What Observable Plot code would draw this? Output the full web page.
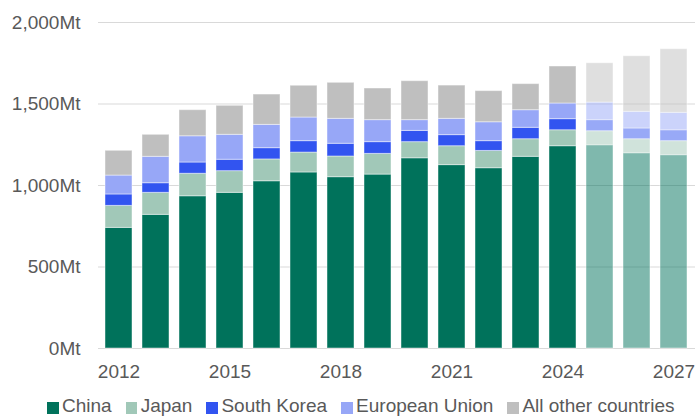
<!DOCTYPE html>
<html>
<head>
<meta charset="utf-8">
<script src="https://cdn.jsdelivr.net/npm/d3@7"></script>
<script src="https://cdn.jsdelivr.net/npm/@observablehq/plot@0.6"></script>
<style>
  html, body { margin: 0; padding: 0; background: #fff; }
  body { width: 695px; height: 417px; overflow: hidden; font-family: "Liberation Sans", Arial, sans-serif; }
  #chart svg { display: block; }
  #legend { display: flex; align-items: flex-start; height: 20px; margin-top: -3px; padding-left: 47px; font-size: 19px; line-height: 19px; color: #595959; white-space: nowrap; }
  #legend .item { display: flex; align-items: flex-start; margin-right: 14px; }
  #legend .sw { width: 11.5px; height: 12px; margin-top: 6px; margin-right: 3.5px; }
</style>
</head>
<body>
<div id="chart"></div>
<div id="legend"></div>
<script>
const years = [2012, 2013, 2014, 2015, 2016, 2017, 2018, 2019, 2020, 2021, 2022, 2023, 2024, 2025, 2026, 2027];
const forecastYears = [2025, 2026, 2027];
const series = ["China", "Japan", "South Korea", "European Union", "All other countries"];
const colors = ["#00725b", "#a1c8b8", "#3254f0", "#97a7f7", "#bfbfbf"];
const china      = [740, 820, 934, 955, 1026, 1080, 1051, 1067, 1167, 1125, 1106, 1176, 1241, 1247, 1198, 1186];
const japan      = [135, 135, 138, 133, 134, 122, 127, 127, 99, 116, 106, 108, 98, 86, 86, 86];
const southKorea = [70, 59, 69, 70, 69, 70, 78, 72, 69, 68, 60, 70, 68, 68, 66, 67];
const eu         = [116, 162, 161, 153, 143, 145, 153, 135, 66, 100, 116, 108, 96, 108, 102, 107];
const other      = [152, 135, 160, 178, 186, 195, 221, 194, 239, 204, 191, 160, 227, 241, 341, 390];
const yTicks = [0, 500, 1000, 1500, 2000];
const xTicks = [2012, 2015, 2018, 2021, 2024, 2027];

const valuesBySeries = [china, japan, southKorea, eu, other];
const data = [];
years.forEach((year, i) => {
  series.forEach((s, j) => data.push({year, series: s, value: valuesBySeries[j][i], forecast: forecastYears.includes(year)}));
});

const barOpts = {x: "year", y: "value", fill: "series", order: series, stroke: "white", strokeOpacity: 0.45, strokeWidth: 1};

const chart = Plot.plot({
  width: 695,
  height: 399,
  marginLeft: 98,
  marginRight: 0,
  marginTop: 22,
  marginBottom: 51,
  style: {fontFamily: "'Liberation Sans', Arial, sans-serif", fontSize: "19px", color: "#595959", background: "#fff"},
  x: {type: "band", domain: years, paddingInner: 0.26, paddingOuter: 0.12},
  y: {domain: [0, 2000]},
  color: {domain: series, range: colors},
  marks: [
    Plot.ruleY(yTicks, {stroke: "#d9d9d9", strokeWidth: 1.2}),
    Plot.barY(data.filter(d => !d.forecast), barOpts),
    Plot.barY(data.filter(d => d.forecast), {...barOpts, fillOpacity: 0.5}),
    Plot.axisY({ticks: yTicks, tickSize: 0, tickPadding: 18, tickFormat: d => d3.format(",")(d) + "Mt", fill: "#595959", label: null}),
    Plot.axisX({ticks: xTicks, tickSize: 0, tickPadding: 15.5, tickFormat: d => String(d), fill: "#595959", label: null})
  ]
});
document.getElementById("chart").appendChild(chart);

const legend = document.getElementById("legend");
series.forEach((s, j) => {
  const item = document.createElement("div");
  item.className = "item";
  const sw = document.createElement("span");
  sw.className = "sw";
  sw.style.background = colors[j];
  const label = document.createElement("span");
  label.textContent = s;
  item.appendChild(sw);
  item.appendChild(label);
  legend.appendChild(item);
});
</script>
</body>
</html>
